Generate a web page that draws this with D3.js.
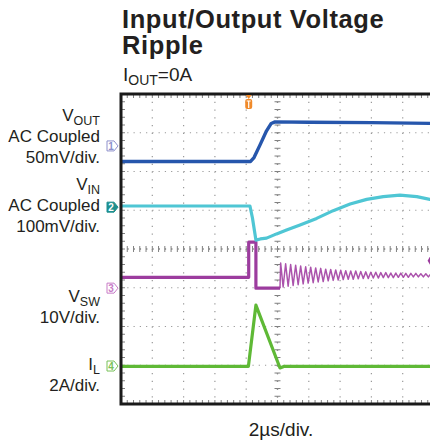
<!DOCTYPE html>
<html><head><meta charset="utf-8">
<script src="https://cdn.jsdelivr.net/npm/d3@7/dist/d3.min.js"></script>
<style>
html,body{margin:0;padding:0;background:#fff;}
svg{display:block;font-family:"Liberation Sans",Arial,Helvetica,sans-serif;}
</style></head>
<body>
<svg id="c" width="430" height="445"></svg>
<script>
// ---- data (time in divisions 0..10, level in divisions 0..8 from bottom) ----
const vOutT = [0, 4.14, 4.25, 4.45, 4.65, 4.80, 4.92, 6.0, 8.0, 10.0];
const vOutV = [6.26, 6.26, 6.36, 6.70, 7.05, 7.24, 7.28, 7.27, 7.26, 7.24];

const vInT = [0, 4.12, 4.20, 4.31, 4.45, 4.65, 4.97, 5.29, 5.72, 6.25, 6.78, 7.32, 7.85, 8.38, 8.91, 9.45, 9.87, 10.0];
const vInV = [5.11, 5.11, 4.80, 4.23, 4.26, 4.28, 4.39, 4.49, 4.62, 4.79, 4.99, 5.16, 5.28, 5.35, 5.39, 5.35, 5.28, 5.26];

const vSwT = [0, 4.08, 4.08, 4.31, 4.31, 5.08];
const vSwV = [3.27, 3.27, 4.18, 4.18, 2.99, 2.99];

const vSwRingT = [5.08, 5.10, 5.18, 5.26, 5.34, 5.42, 5.50, 5.58, 5.66, 5.74, 5.82, 5.90, 5.98, 6.06, 6.14, 6.22, 6.30, 6.38, 6.46, 6.54, 6.62, 6.70, 6.78, 6.86, 6.94, 7.02, 7.10, 7.18, 7.26, 7.34, 7.42, 7.50, 7.58, 7.66, 7.74, 7.82, 7.90, 7.98, 8.06, 8.14, 8.22, 8.30, 8.38, 8.46, 8.54, 8.62, 8.70, 8.78, 8.86, 8.94, 9.02, 9.10, 9.18, 9.26, 9.34, 9.42, 9.50, 9.58, 9.66, 9.74, 9.82, 9.90, 9.98, 10.06];
const vSwRingV = [2.99, 3.64, 3.02, 3.62, 3.04, 3.60, 3.06, 3.58, 3.08, 3.56, 3.10, 3.54, 3.12, 3.53, 3.13, 3.51, 3.15, 3.50, 3.16, 3.48, 3.18, 3.47, 3.19, 3.46, 3.20, 3.45, 3.21, 3.44, 3.22, 3.43, 3.22, 3.43, 3.23, 3.42, 3.24, 3.41, 3.24, 3.40, 3.25, 3.40, 3.25, 3.39, 3.26, 3.39, 3.26, 3.38, 3.26, 3.38, 3.27, 3.38, 3.27, 3.37, 3.27, 3.37, 3.28, 3.37, 3.28, 3.36, 3.28, 3.36, 3.28, 3.36, 3.29, 3.35];

const iLT = [0, 4.07, 4.31, 5.08, 5.20, 10.0];
const iLV = [0.97, 0.97, 2.55, 0.93, 0.97, 0.97];

const chMarkers = [
  {ch: "1", level: 6.66},
  {ch: "2", level: 5.08},
  {ch: "3", level: 2.99},
  {ch: "4", level: 0.98}
];
const triggerT = 4.08;
const triggerLevel = 3.7;

const xDivs = 10, yDivs = 8;

// ---- layout ----
const svg = d3.select("#c");
const L = 121, R = 434, T = 94, B = 404;
const x = d3.scaleLinear().domain([0, xDivs]).range([L, R]);
const y = d3.scaleLinear().domain([0, yDivs]).range([B, T]);

// title
const title = svg.append("g").attr("fill", "#231f20");
title.append("text").attr("x", 122).attr("y", 28).attr("font-size", 25.5).attr("font-weight", "bold")
  .attr("letter-spacing", 0.6).text("Input/Output Voltage");
title.append("text").attr("x", 122).attr("y", 54).attr("font-size", 25.5).attr("font-weight", "bold")
  .attr("letter-spacing", 0.6).text("Ripple");
const sub = title.append("text").attr("x", 123).attr("y", 81).attr("font-size", 19);
sub.append("tspan").text("I");
sub.append("tspan").attr("font-size", 14).attr("dy", 4).text("OUT");
sub.append("tspan").attr("dy", -4).text("=0A");

// grid
svg.append("clipPath").attr("id", "pc").append("rect")
  .attr("x", L).attr("y", T).attr("width", R - L).attr("height", B - T);
const grid = svg.append("g").attr("clip-path", "url(#pc)");
const divW = x(1) - x(0), divH = y(0) - y(1);
d3.range(1, xDivs).forEach(i => {
  grid.append("line").attr("x1", x(i)).attr("x2", x(i)).attr("y1", T).attr("y2", B)
    .attr("stroke", "#9a9a9a").attr("stroke-width", 1.2)
    .attr("stroke-dasharray", `1.2,${divH / 5 - 1.2}`);
});
d3.range(1, yDivs).forEach(i => {
  grid.append("line").attr("x1", L).attr("x2", R).attr("y1", y(i)).attr("y2", y(i))
    .attr("stroke", "#9a9a9a").attr("stroke-width", 1.2)
    .attr("stroke-dasharray", `1.2,${divW / 5 - 1.2}`);
});
// center / border tick marks
const minorX = d3.range(0, xDivs * 5 + 1).map(k => k / 5);
const minorY = d3.range(0, yDivs * 5 + 1).map(k => k / 5);
minorX.forEach(v => {
  grid.append("line").attr("x1", x(v)).attr("x2", x(v)).attr("y1", y(4) - 3).attr("y2", y(4) + 3)
    .attr("stroke", "#808080").attr("stroke-width", 1);
  grid.append("line").attr("x1", x(v)).attr("x2", x(v)).attr("y1", B - 4).attr("y2", B)
    .attr("stroke", "#808080").attr("stroke-width", 1);
  grid.append("line").attr("x1", x(v)).attr("x2", x(v)).attr("y1", T).attr("y2", T + 4)
    .attr("stroke", "#808080").attr("stroke-width", 1);
});
minorY.forEach(v => {
  grid.append("line").attr("x1", x(5) - 3).attr("x2", x(5) + 3).attr("y1", y(v)).attr("y2", y(v))
    .attr("stroke", "#808080").attr("stroke-width", 1);
  grid.append("line").attr("x1", L).attr("x2", L + 4).attr("y1", y(v)).attr("y2", y(v))
    .attr("stroke", "#808080").attr("stroke-width", 1);
});
grid.append("line").attr("x1", x(5)).attr("x2", x(5)).attr("y1", T).attr("y2", B)
  .attr("stroke", "#8a8a8a").attr("stroke-width", 1.3).attr("stroke-dasharray", `1.3,${divH / 5 - 1.3}`);
grid.append("line").attr("x1", L).attr("x2", R).attr("y1", y(4)).attr("y2", y(4))
  .attr("stroke", "#8a8a8a").attr("stroke-width", 1.3).attr("stroke-dasharray", `1.3,${divW / 5 - 1.3}`);

// traces
const line = d3.line().x(d => x(d[0])).y(d => y(d[1]));
const traces = svg.append("g").attr("clip-path", "url(#pc)").attr("fill", "none")
  .attr("stroke-linejoin", "round");
function draw(ts, vs, color, w, op) {
  traces.append("path").datum(d3.zip(ts, vs)).attr("d", line)
    .attr("stroke", color).attr("stroke-width", w).attr("stroke-opacity", op || 1);
}
draw(iLT, iLV, "#5fb936", 3.2);
draw(vSwRingT, vSwRingV, "#a64aa8", 1.5, 0.95);
draw(vSwT, vSwV, "#9c3c9e", 3.2);
draw(vInT, vInV, "#4fc6d4", 3.2);
draw(vOutT, vOutV, "#2656ac", 3.4);

// frame
svg.append("path").attr("fill", "none").attr("stroke", "#1a1a1a").attr("stroke-width", 3)
  .attr("d", `M${R + 5},${T}H${L}V${B}H${R + 5}`);

// trigger marker (top)
const tx = x(triggerT);
svg.append("path").attr("d", `M${tx - 3},${T + 1}L${tx + 3},${T + 1}L${tx},${T + 5}Z`).attr("fill", "#f08a2a");
svg.append("rect").attr("x", tx - 3.5).attr("y", T + 5).attr("width", 7).attr("height", 10).attr("rx", 2)
  .attr("fill", "#f08a2a");
svg.append("path").attr("d", `M${tx - 2},${T + 7}H${tx + 2}M${tx},${T + 7}V${T + 14}`)
  .attr("stroke", "#fff").attr("stroke-width", 1.2);
// trigger level diamond (right)
svg.append("path").attr("d", d3.symbol(d3.symbolDiamond, 40)()).attr("fill", "#9c3c9e")
  .attr("transform", `translate(${431},${y(triggerLevel)})`);

// channel markers
const mColors = {"1": "#8d90cc", "2": "#1f8f8f", "3": "#c77cc7", "4": "#79c25a"};
chMarkers.forEach(m => {
  const cy = y(m.level), cx = 111;
  const g = svg.append("g");
  const filled = m.ch === "2";
  g.append("path").attr("d", `M${cx - 4},${cy - 5}H${cx + 3}L${cx + 7},${cy}L${cx + 3},${cy + 5}H${cx - 4}Z`)
    .attr("fill", filled ? mColors[m.ch] : "#fff").attr("stroke", mColors[m.ch]).attr("stroke-width", 1);
  g.append("text").attr("x", cx).attr("y", cy + 4).attr("text-anchor", "middle").attr("font-size", 10)
    .attr("font-weight", "bold").attr("fill", filled ? "#fff" : mColors[m.ch]).text(m.ch);
});

// left labels
const lab = svg.append("g").attr("font-size", 17).attr("fill", "#231f20").attr("text-anchor", "end");
function sublabel(xx, yy, main, subs) {
  const t = lab.append("text").attr("x", xx).attr("y", yy);
  t.append("tspan").text(main);
  t.append("tspan").attr("font-size", 12.5).attr("dy", 4).text(subs);
}
sublabel(100, 121, "V", "OUT");
lab.append("text").attr("x", 100).attr("y", 142).text("AC Coupled");
lab.append("text").attr("x", 100).attr("y", 163).text("50mV/div.");
sublabel(100, 190, "V", "IN");
lab.append("text").attr("x", 100).attr("y", 211).text("AC Coupled");
lab.append("text").attr("x", 100).attr("y", 232).text("100mV/div.");
sublabel(100, 302, "V", "SW");
lab.append("text").attr("x", 100).attr("y", 323).text("10V/div.");
sublabel(100, 370, "I", "L");
lab.append("text").attr("x", 100).attr("y", 391).text("2A/div.");

// bottom label
svg.append("text").attr("x", 281).attr("y", 436).attr("text-anchor", "middle").attr("font-size", 19)
  .attr("fill", "#231f20").text("2µs/div.");
</script>
</body></html>
